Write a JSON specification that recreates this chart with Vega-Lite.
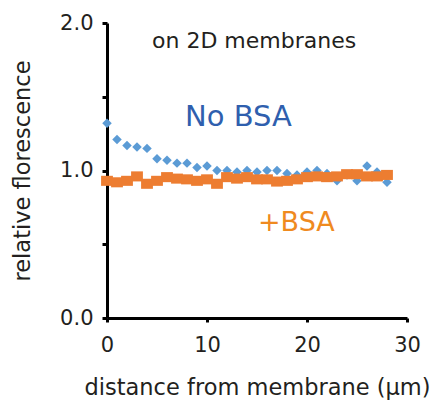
{
  "$schema": "https://vega.github.io/schema/vega-lite/v6.json",
  "width": 300,
  "height": 295,
  "autosize": {"type": "none"},
  "padding": {"left": 107, "top": 23, "right": 28, "bottom": 82},
  "background": "white",
  "config": {
    "view": {"stroke": null},
    "font": "DejaVu Sans"
  },
  "datasets": {
    "points": [
      {"distance": 0, "fluorescence": 1.32, "condition": "No BSA"},
      {"distance": 1, "fluorescence": 1.21, "condition": "No BSA"},
      {"distance": 2, "fluorescence": 1.17, "condition": "No BSA"},
      {"distance": 3, "fluorescence": 1.16, "condition": "No BSA"},
      {"distance": 4, "fluorescence": 1.15, "condition": "No BSA"},
      {"distance": 5, "fluorescence": 1.08, "condition": "No BSA"},
      {"distance": 6, "fluorescence": 1.07, "condition": "No BSA"},
      {"distance": 7, "fluorescence": 1.05, "condition": "No BSA"},
      {"distance": 8, "fluorescence": 1.05, "condition": "No BSA"},
      {"distance": 9, "fluorescence": 1.02, "condition": "No BSA"},
      {"distance": 10, "fluorescence": 1.03, "condition": "No BSA"},
      {"distance": 11, "fluorescence": 1.0, "condition": "No BSA"},
      {"distance": 12, "fluorescence": 1.0, "condition": "No BSA"},
      {"distance": 13, "fluorescence": 0.99, "condition": "No BSA"},
      {"distance": 14, "fluorescence": 1.0, "condition": "No BSA"},
      {"distance": 15, "fluorescence": 0.99, "condition": "No BSA"},
      {"distance": 16, "fluorescence": 1.0, "condition": "No BSA"},
      {"distance": 17, "fluorescence": 1.0, "condition": "No BSA"},
      {"distance": 18, "fluorescence": 0.98, "condition": "No BSA"},
      {"distance": 19, "fluorescence": 0.97, "condition": "No BSA"},
      {"distance": 20, "fluorescence": 0.99, "condition": "No BSA"},
      {"distance": 21, "fluorescence": 1.0, "condition": "No BSA"},
      {"distance": 22, "fluorescence": 0.98, "condition": "No BSA"},
      {"distance": 23, "fluorescence": 0.93, "condition": "No BSA"},
      {"distance": 24, "fluorescence": 0.97, "condition": "No BSA"},
      {"distance": 25, "fluorescence": 0.93, "condition": "No BSA"},
      {"distance": 26, "fluorescence": 1.03, "condition": "No BSA"},
      {"distance": 27, "fluorescence": 0.99, "condition": "No BSA"},
      {"distance": 28, "fluorescence": 0.92, "condition": "No BSA"},
      {"distance": 0, "fluorescence": 0.93, "condition": "+BSA"},
      {"distance": 1, "fluorescence": 0.92, "condition": "+BSA"},
      {"distance": 2, "fluorescence": 0.93, "condition": "+BSA"},
      {"distance": 3, "fluorescence": 0.96, "condition": "+BSA"},
      {"distance": 4, "fluorescence": 0.91, "condition": "+BSA"},
      {"distance": 5, "fluorescence": 0.93, "condition": "+BSA"},
      {"distance": 6, "fluorescence": 0.955, "condition": "+BSA"},
      {"distance": 7, "fluorescence": 0.945, "condition": "+BSA"},
      {"distance": 8, "fluorescence": 0.94, "condition": "+BSA"},
      {"distance": 9, "fluorescence": 0.93, "condition": "+BSA"},
      {"distance": 10, "fluorescence": 0.94, "condition": "+BSA"},
      {"distance": 11, "fluorescence": 0.91, "condition": "+BSA"},
      {"distance": 12, "fluorescence": 0.955, "condition": "+BSA"},
      {"distance": 13, "fluorescence": 0.945, "condition": "+BSA"},
      {"distance": 14, "fluorescence": 0.955, "condition": "+BSA"},
      {"distance": 15, "fluorescence": 0.94, "condition": "+BSA"},
      {"distance": 16, "fluorescence": 0.94, "condition": "+BSA"},
      {"distance": 17, "fluorescence": 0.925, "condition": "+BSA"},
      {"distance": 18, "fluorescence": 0.93, "condition": "+BSA"},
      {"distance": 19, "fluorescence": 0.94, "condition": "+BSA"},
      {"distance": 20, "fluorescence": 0.955, "condition": "+BSA"},
      {"distance": 21, "fluorescence": 0.96, "condition": "+BSA"},
      {"distance": 22, "fluorescence": 0.955, "condition": "+BSA"},
      {"distance": 23, "fluorescence": 0.96, "condition": "+BSA"},
      {"distance": 24, "fluorescence": 0.975, "condition": "+BSA"},
      {"distance": 25, "fluorescence": 0.975, "condition": "+BSA"},
      {"distance": 26, "fluorescence": 0.96, "condition": "+BSA"},
      {"distance": 27, "fluorescence": 0.96, "condition": "+BSA"},
      {"distance": 28, "fluorescence": 0.97, "condition": "+BSA"}
    ]
  },
  "layer": [
    {
      "data": {"name": "points"},
      "mark": {"type": "point", "filled": true, "opacity": 1},
      "encoding": {
        "x": {
          "field": "distance",
          "type": "quantitative",
          "scale": {"domain": [0, 30], "nice": false, "zero": false},
          "axis": {
            "title": "distance from membrane (μm)",
            "values": [0, 10, 20, 30],
            "grid": false,
            "domainColor": "black",
            "domainWidth": 3,
            "tickColor": "black",
            "tickWidth": 3,
            "tickSize": 4,
            "labelFont": "DejaVu Sans",
            "labelFontSize": 21,
            "labelColor": "#231f20",
            "labelPadding": 12,
            "labelFlush": false,
            "titleFont": "DejaVu Sans",
            "titleFontSize": 22.5,
            "titleFontWeight": "normal",
            "titleColor": "#231f20",
            "titlePadding": 21
          }
        },
        "y": {
          "field": "fluorescence",
          "type": "quantitative",
          "scale": {"domain": [0, 2], "nice": false, "zero": true},
          "axis": {
            "title": "relative florescence",
            "values": [0, 0.25, 0.5, 0.75, 1, 1.25, 1.5, 1.75, 2],
            "labelExpr": "datum.value % 1 === 0 ? format(datum.value, '.1f') : ''",
            "grid": false,
            "domainColor": "black",
            "domainWidth": 3,
            "tickColor": "black",
            "tickWidth": 3,
            "tickSize": 5,
            "labelFont": "DejaVu Sans",
            "labelFontSize": 21,
            "labelColor": "#231f20",
            "labelPadding": 9,
            "labelFlush": false,
            "titleFont": "DejaVu Sans",
            "titleFontSize": 22.5,
            "titleFontWeight": "normal",
            "titleColor": "#231f20",
            "titlePadding": 25
          }
        },
        "color": {
          "field": "condition",
          "type": "nominal",
          "scale": {"domain": ["No BSA", "+BSA"], "range": ["#5b9bd5", "#ed7d31"]},
          "legend": null
        },
        "shape": {
          "field": "condition",
          "type": "nominal",
          "scale": {"domain": ["No BSA", "+BSA"], "range": ["diamond", "M-1,-0.85H1V0.85H-1Z"]},
          "legend": null
        },
        "size": {
          "field": "condition",
          "type": "nominal",
          "scale": {"domain": ["No BSA", "+BSA"], "range": [90, 140]},
          "legend": null
        }
      }
    },
    {
      "data": {"values": [{}]},
      "mark": {"type": "text", "text": "on 2D membranes", "align": "left", "baseline": "alphabetic", "font": "DejaVu Sans", "fontSize": 22, "color": "#231f20"},
      "encoding": {"x": {"datum": 4.5}, "y": {"datum": 1.828}}
    },
    {
      "data": {"values": [{}]},
      "mark": {"type": "text", "text": "No BSA", "align": "left", "baseline": "alphabetic", "font": "DejaVu Sans", "fontSize": 29, "color": "#2f5fae"},
      "encoding": {"x": {"datum": 7.8}, "y": {"datum": 1.305}}
    },
    {
      "data": {"values": [{}]},
      "mark": {"type": "text", "text": "+BSA", "align": "left", "baseline": "alphabetic", "font": "DejaVu Sans", "fontSize": 27, "color": "#ef8a1f"},
      "encoding": {"x": {"datum": 15.1}, "y": {"datum": 0.593}}
    }
  ]
}
